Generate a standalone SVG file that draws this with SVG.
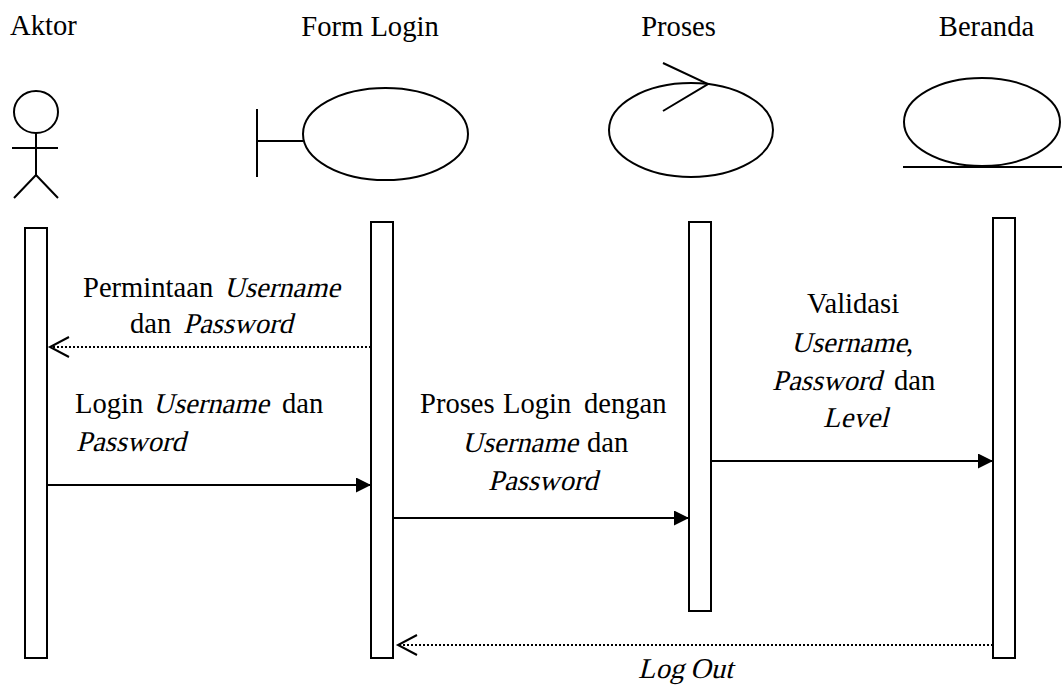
<svg xmlns="http://www.w3.org/2000/svg" width="1062" height="686" viewBox="0 0 1062 686">
<style>
text{font-family:"Liberation Serif","Times New Roman",serif;font-size:28.6px;fill:#000}
.s{fill:none;stroke:#000;stroke-width:2}
.box{fill:#fff;stroke:#000;stroke-width:2}
.dot{fill:none;stroke:#000;stroke-width:2;stroke-dasharray:2 2}
</style>
<defs>
<marker id="fill" markerWidth="16" markerHeight="16" refX="15" refY="7.5" orient="auto" markerUnits="userSpaceOnUse">
<path d="M0,0 L15,7.5 L0,15 Z" fill="#000"/>
</marker>
<marker id="open" markerWidth="24" markerHeight="24" refX="21" refY="11" orient="auto" markerUnits="userSpaceOnUse">
<path d="M2,1 L21,11 L2,21" fill="none" stroke="#000" stroke-width="2"/>
</marker>
</defs>
<g id="aktor">
<text x="10" y="35">Aktor</text>
<ellipse class="s" cx="36" cy="112" rx="22" ry="21"/>
<path class="s" d="M36,133 V175 M12,148 H58 M36,175 L14,198 M36,175 L58,198"/>
<rect class="box" x="25" y="228" width="22" height="430"/>
</g>
<g id="formlogin">
<text x="370" y="36" text-anchor="middle">Form Login</text>
<path class="s" d="M257,109 V177 M257,141 H303"/>
<ellipse class="s" cx="385.5" cy="134" rx="82.5" ry="46"/>
<rect class="box" x="371" y="222" width="22" height="436"/>
</g>
<g id="proses">
<text x="678.5" y="36" text-anchor="middle">Proses</text>
<ellipse class="s" cx="691" cy="130" rx="82" ry="47"/>
<path class="s" d="M663,63 L708,84 L663,111"/>
<rect class="box" x="689" y="222" width="22" height="389"/>
</g>
<g id="beranda">
<text x="986.5" y="36" text-anchor="middle">Beranda</text>
<ellipse class="s" cx="982" cy="122" rx="78" ry="44"/>
<path class="s" d="M903,167 H1062"/>
<rect class="box" x="993" y="218" width="22" height="440"/>
</g>
<g id="connectors">
<line class="dot" x1="371" y1="347" x2="50" y2="347" marker-end="url(#open)"/>
<line class="s" x1="47" y1="485" x2="371" y2="485" marker-end="url(#fill)"/>
<line class="s" x1="393" y1="518" x2="689" y2="518" marker-end="url(#fill)"/>
<line class="s" x1="711" y1="461" x2="993" y2="461" marker-end="url(#fill)"/>
<line class="dot" x1="993" y1="645" x2="398" y2="645" marker-end="url(#open)"/>
</g>
<g id="labels">
<text x="83" y="297">Permintaan</text>
<text transform="translate(224,297) skewX(-14)">Username</text>
<text x="130" y="333">dan</text>
<text transform="translate(183,333) skewX(-14)">Password</text>
<text x="75" y="413">Login</text>
<text transform="translate(153,413) skewX(-14)">Username</text>
<text x="282" y="413">dan</text>
<text transform="translate(76,451) skewX(-14)">Password</text>
<text x="420" y="413">Proses</text>
<text x="503" y="413">Login</text>
<text x="584" y="413">dengan</text>
<text transform="translate(462,452) skewX(-14)">Username</text>
<text x="587" y="452">dan</text>
<text transform="translate(488,490) skewX(-14)">Password</text>
<text x="807" y="313">Validasi</text>
<text transform="translate(791,352) skewX(-14)">Username</text>
<text x="906" y="352">,</text>
<text transform="translate(772,390) skewX(-14)">Password</text>
<text x="894" y="390">dan</text>
<text transform="translate(823,427) skewX(-14)">Level</text>
<text transform="translate(638,678) skewX(-14)">Log</text>
<text transform="translate(690,678) skewX(-14)">Out</text>
</g>
</svg>
